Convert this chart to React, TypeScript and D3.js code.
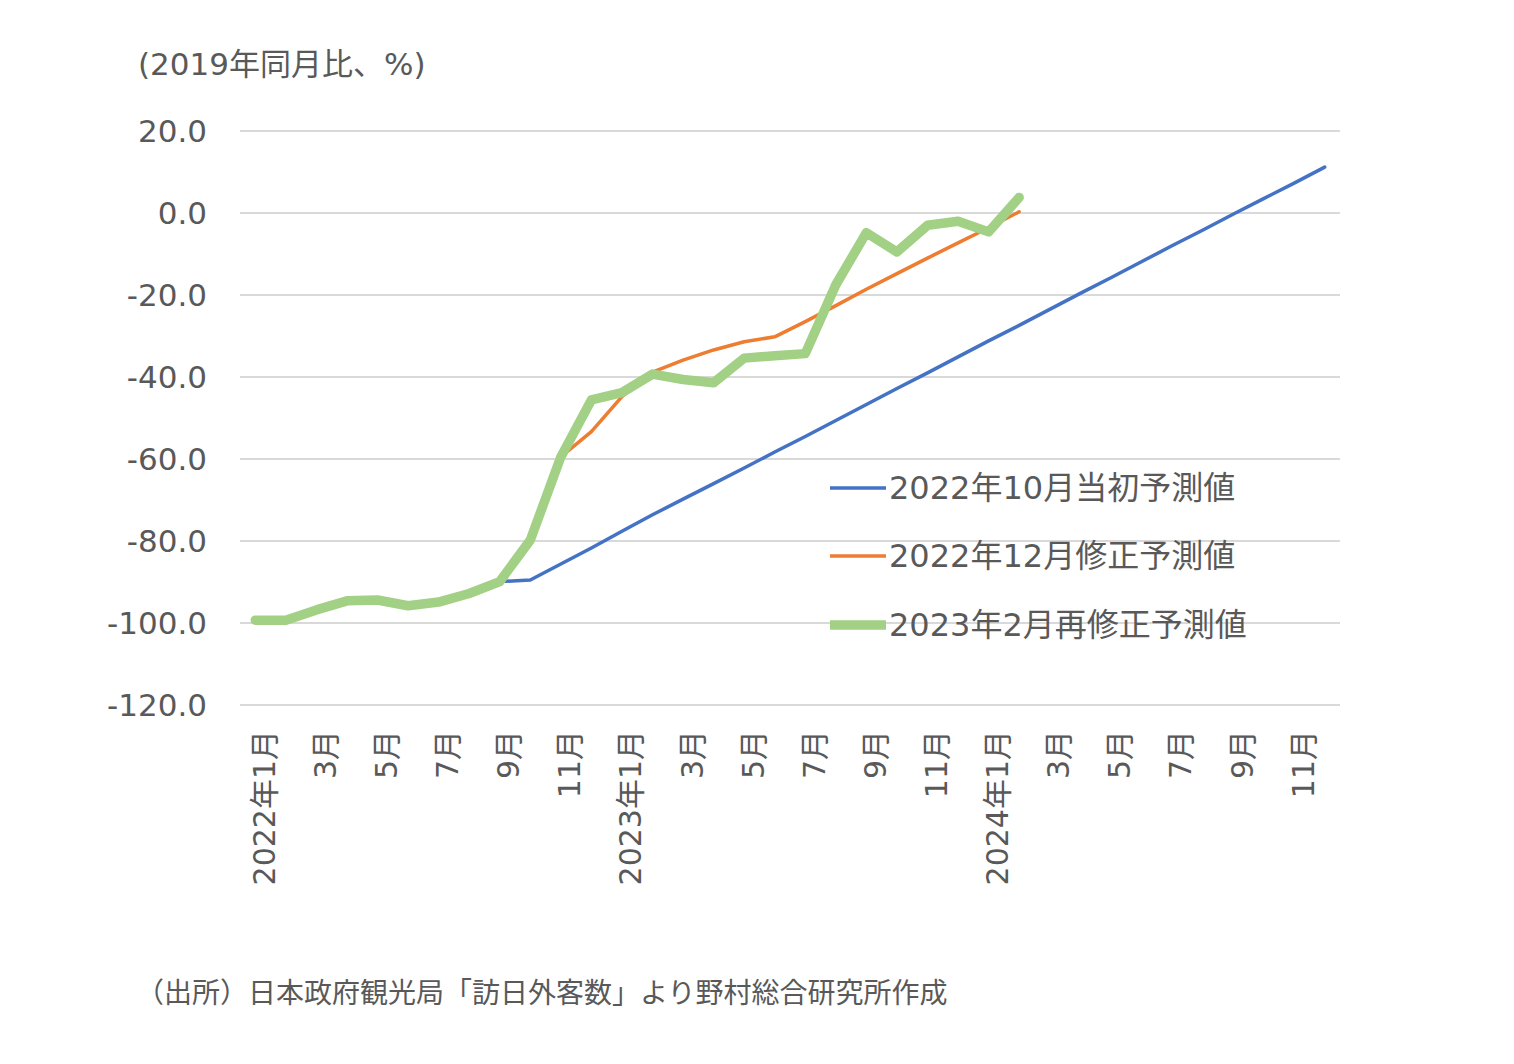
import * as d3 from "d3"
import { useEffect, useRef } from "react"

// months 2022-01 .. 2024-12
const MONTHS = d3.range(36).map((i) => `m${i}`)

const TICK_LABELS = [
  "2022年1月", "3月", "5月", "7月", "9月", "11月",
  "2023年1月", "3月", "5月", "7月", "9月", "11月",
  "2024年1月", "3月", "5月", "7月", "9月", "11月",
]

const Y_TICKS = [20, 0, -20, -40, -60, -80, -100, -120]

// 2022年10月当初予測値
const INITIAL = [
  -99.3, -99.3, -96.8, -94.6, -94.4, -95.8, -94.9, -92.8, -89.9, -89.5,
  -85.6, -81.7, -77.6, -73.6, -69.8, -66.0, -62.2, -58.3, -54.5, -50.6,
  -46.7, -42.8, -39.0, -35.1, -31.2, -27.4, -23.5, -19.6, -15.8, -11.9,
  -8.0, -4.2, -0.3, 3.5, 7.3, 11.2,
]

// 2022年12月修正予測値
const REVISED = [
  -99.3, -99.3, -96.8, -94.6, -94.4, -95.8, -94.9, -92.8, -89.9, -79.8,
  -59.5, -53.3, -44.8, -38.8, -35.9, -33.4, -31.4, -30.2, -26.5, -22.6,
  -18.6, -14.8, -11.0, -7.3, -3.6, 0.3,
]

// 2023年2月再修正予測値
const REREVISED = [
  -99.3, -99.3, -96.8, -94.6, -94.4, -95.8, -94.9, -92.8, -89.9, -79.8,
  -59.5, -45.6, -43.8, -39.3, -40.6, -41.4, -35.4, -34.8, -34.3, -17.5,
  -4.8, -9.5, -3.0, -2.0, -4.6, 3.8,
]

const SERIES = [
  { name: "2022年10月当初予測値", values: INITIAL, color: "#4472c4", width: 3.5 },
  { name: "2022年12月修正予測値", values: REVISED, color: "#ed7d31", width: 3.5 },
  { name: "2023年2月再修正予測値", values: REREVISED, color: "#a2d085", width: 9.5 },
]

// Verdana-like latin (as in Meiryo) with a CJK fallback
const FONT = "'DejaVu Sans', 'Noto Sans CJK JP', sans-serif"
const CJK = "'Noto Sans CJK JP', sans-serif"
const TEXT = "#595959"

export default function App() {
  const ref = useRef<SVGSVGElement | null>(null)

  useEffect(() => {
    if (!ref.current) return
    const width = 1514
    const height = 1064
    const plot = { left: 240, right: 1340, top: 131, bottom: 705 }

    const svg = d3.select(ref.current)
    svg.selectAll("*").remove()
    svg.attr("viewBox", `0 0 ${width} ${height}`)

    const x = d3.scaleBand<string>().domain(MONTHS).range([plot.left, plot.right]).padding(0)
    const cx = (i: number) => x(MONTHS[i])! + x.bandwidth() / 2
    const y = d3.scaleLinear().domain([-120, 20]).range([plot.bottom, plot.top])

    svg
      .append("rect")
      .attr("width", width)
      .attr("height", height)
      .attr("fill", "#fff")

    // gridlines
    svg
      .append("g")
      .selectAll("line")
      .data(Y_TICKS)
      .join("line")
      .attr("x1", plot.left)
      .attr("x2", plot.right)
      .attr("y1", (d) => y(d))
      .attr("y2", (d) => y(d))
      .attr("stroke", "#d9d9d9")
      .attr("stroke-width", 2)

    // y labels
    svg
      .append("g")
      .selectAll("text")
      .data(Y_TICKS)
      .join("text")
      .attr("x", 207)
      .attr("y", (d) => y(d))
      .attr("text-anchor", "end")
      .attr("dominant-baseline", "central")
      .attr("font-family", FONT)
      .attr("font-size", 31)
      .attr("fill", TEXT)
      .text((d) => d.toFixed(1))

    svg
      .append("text")
      .attr("x", 138)
      .attr("y", 64)
      .attr("dominant-baseline", "central")
      .attr("font-family", FONT)
      .attr("font-size", 31)
      .attr("fill", TEXT)
      .text("(2019年同月比、%)")

    // x labels (every other month)
    svg
      .append("g")
      .selectAll("text")
      .data(TICK_LABELS)
      .join("text")
      .attr("transform", (_, k) => `translate(${cx(k * 2) + 9},730) rotate(-90)`)
      .attr("text-anchor", "end")
      .attr("dominant-baseline", "central")
      .attr("font-family", FONT)
      .attr("font-size", 30)
      .attr("fill", TEXT)
      .text((d) => d)

    const line = d3
      .line<number>()
      .x((_, i) => cx(i))
      .y((d) => y(d))

    svg
      .append("g")
      .selectAll("path")
      .data(SERIES)
      .join("path")
      .attr("d", (s) => line(s.values))
      .attr("fill", "none")
      .attr("stroke", (s) => s.color)
      .attr("stroke-width", (s) => s.width)
      .attr("stroke-linejoin", "round")
      .attr("stroke-linecap", "round")

    // legend
    const legendY = [488, 556, 625]
    const lg = svg
      .append("g")
      .selectAll("g")
      .data(SERIES)
      .join("g")
      .attr("transform", (_, i) => `translate(830,${legendY[i]})`)
    lg.append("line")
      .attr("x1", 0)
      .attr("x2", 56)
      .attr("stroke", (s) => s.color)
      .attr("stroke-width", (s) => s.width)
    lg.append("text")
      .attr("x", 59)
      .attr("dominant-baseline", "central")
      .attr("font-family", FONT)
      .attr("font-size", 32)
      .attr("fill", TEXT)
      .text((s) => s.name)

    svg
      .append("text")
      .attr("x", 136)
      .attr("y", 991)
      .attr("dominant-baseline", "central")
      .attr("font-family", CJK)
      .attr("font-size", 28)
      .attr("fill", TEXT)
      .text("（出所）日本政府観光局「訪日外客数」より野村総合研究所作成")
  }, [])

  return (
    <svg
      ref={ref}
      width={1514}
      height={1064}
      style={{ position: "absolute", left: 0, top: 0 }}
    />
  )
}
